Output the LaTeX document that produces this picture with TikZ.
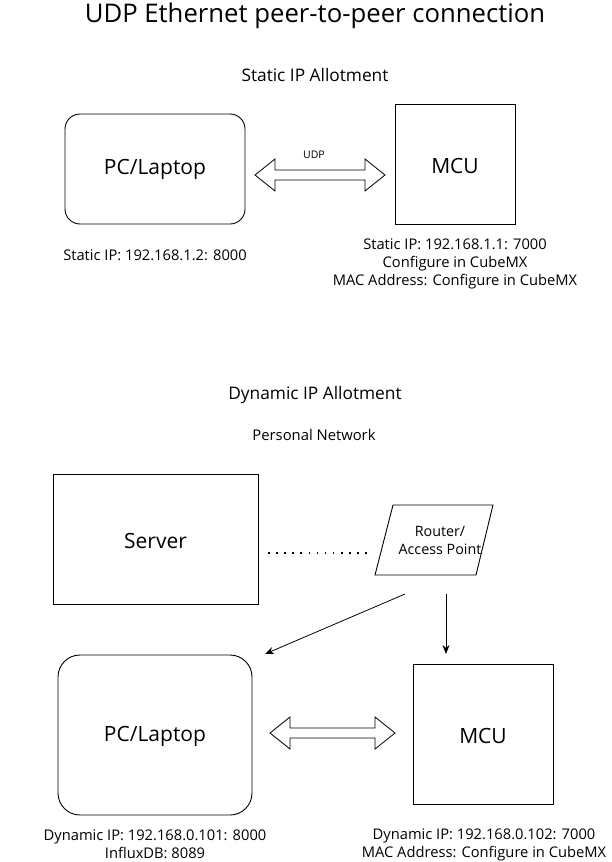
\documentclass[tikz,border=0pt]{standalone}
\usepackage{fontspec}
\setmainfont{Open Sans}
\usetikzlibrary{shapes.geometric,arrows.meta,calc}
\newcommand{\fs}[2]{\fontsize{#1pt}{#2pt}\selectfont}
\begin{document}
\begin{tikzpicture}[x=1pt,y=-1pt,
  big/.style={font=\fs{21}{25}},
  small/.style={font=\fs{14.7}{17.8},align=center,inner sep=0pt},
  arr/.style={-{Stealth[length=9pt,width=7pt]},line width=0.8pt},
  dblarr/.style={draw=black,line width=0.8pt,fill=white}]
\useasboundingbox (0,0) rectangle (611,862);
% titles
\node[font=\fs{25.7}{30}] (title) at (315,16) {UDP Ethernet peer-to-peer connection};
\node[font=\fs{17.3}{21}] (static) at (315,75) {Static IP Allotment};
\node[font=\fs{17.3}{21}] (dynamic) at (315,395) {Dynamic IP Allotment};
\node[font=\fs{14.8}{18}] (pn) at (314,435) {Personal Network};
% top section
\draw[line width=0.9pt,rounded corners=15pt] (65,114) rectangle (245,224);
\node[big] (pc1) at (155,169) {PC/Laptop};
\draw[line width=0.9pt] (395,104) rectangle (515,224);
\node[big] (mcu1) at (455,166) {MCU};
\node[small] (pc1lab) at (155,255) {Static IP: 192.168.1.2: 8000};
\node[small] (mcu1lab) at (455,264) {Static IP: 192.168.1.1: 7000\\Configure in CubeMX\\MAC Address: Configure in CubeMX};
\node[font=\fs{10.5}{13},inner sep=0pt] (udp) at (314,155) {UDP};
% double arrow top
\coordinate (a1) at (255,175);
\coordinate (b1) at (385,175);
\draw[dblarr] (a1) -- ++(20,-16) -- ++(0,11) -- ($(b1)+(-20,-5)$) -- ++(0,-11) -- (b1) -- ++(-20,16) -- ++(0,-11) -- ($(a1)+(20,5)$) -- ++(0,11) -- cycle;
% bottom section
\draw[line width=0.9pt] (53,474) rectangle (258,604);
\node[big] (server) at (155.5,541) {Server};
\draw[line width=0.9pt] (393,505) -- (493,505) -- (476,575) -- (375,575) -- cycle;
\node[font=\fs{14.3}{18},align=center,inner sep=0pt] (router) at (440,540) {Router/\\Access Point};
\draw[line width=1.6pt,dash pattern=on 1.6pt off 6.5pt] (268,553) -- (368,553);
\draw[line width=0.9pt,rounded corners=22pt] (58,655) rectangle (252,815);
\node[big] (pc2) at (155,736) {PC/Laptop};
\draw[line width=0.9pt] (413,664) rectangle (553,804);
\node[big] (mcu2) at (483,736) {MCU};
\coordinate (r1) at (405,594);
\coordinate (r2) at (446,594);
\coordinate (p2) at (265,654);
\coordinate (m2) at (446,654);
\draw[arr] (r1) -- (p2);
\draw[arr] (r2) -- (m2);
\coordinate (a2) at (270,733);
\coordinate (b2) at (395,733);
\draw[dblarr] (a2) -- ++(20,-16) -- ++(0,11) -- ($(b2)+(-20,-5)$) -- ++(0,-11) -- (b2) -- ++(-20,16) -- ++(0,-11) -- ($(a2)+(20,5)$) -- ++(0,11) -- cycle;
\node[small] (pc2lab) at (155,844.5) {Dynamic IP: 192.168.0.101: 8000\\InfluxDB: 8089};
\node[small] (mcu2lab) at (484,844.5) {Dynamic IP: 192.168.0.102: 7000\\MAC Address: Configure in CubeMX};
\end{tikzpicture}
\end{document}
